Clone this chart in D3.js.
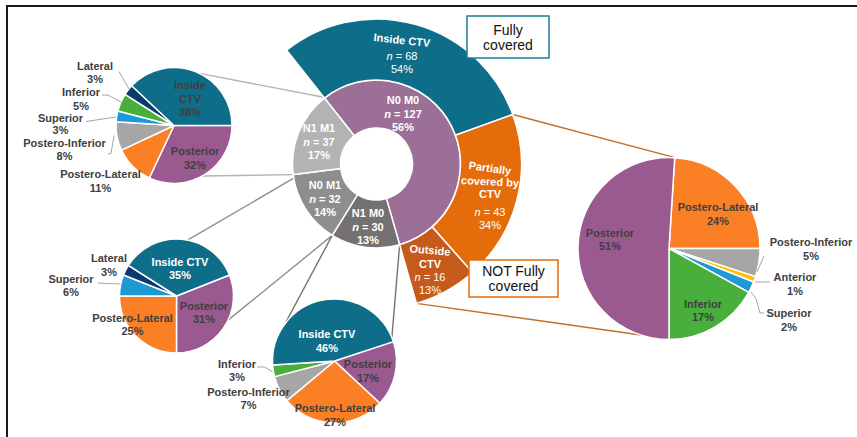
<!DOCTYPE html>
<html><head><meta charset="utf-8">
<script src="https://cdn.jsdelivr.net/npm/d3@7"></script>
<style>body{margin:0;background:#fff}svg{display:block;font-family:"Liberation Sans",Arial,sans-serif}</style>
</head><body><svg id="c" width="857" height="437"></svg>
<script>
// ---------------- DATA ----------------
const stageLabels = ["N0 M0", "N1 M0", "N0 M1", "N1 M1"];
const stageN = [127, 30, 32, 37];
const stagePct = [56, 13, 14, 17];

const coverageLabels = ["Inside CTV", "Partially covered by CTV", "Outside CTV"];
const coverageN = [68, 43, 16];
const coveragePct = [54, 34, 13];

const n1m1Cats = ["Posterior", "Postero-Lateral", "Postero-Inferior", "Superior", "Inferior", "Lateral", "Inside CTV"];
const n1m1Vals = [32, 11, 8, 3, 5, 3, 38];

const n0m1Cats = ["Posterior", "Postero-Lateral", "Superior", "Lateral", "Inside CTV"];
const n0m1Vals = [31, 25, 6, 3, 35];

const n1m0Cats = ["Posterior", "Postero-Lateral", "Postero-Inferior", "Inferior", "Inside CTV"];
const n1m0Vals = [17, 27, 7, 3, 46];

const notCovCats = ["Postero-Lateral", "Postero-Inferior", "Anterior", "Superior", "Inferior", "Posterior"];
const notCovVals = [24, 5, 1, 2, 17, 51];

const boxTexts = [["Fully", "covered"], ["NOT Fully", "covered"]];

// ---------------- STYLE / LAYOUT ----------------
const stageColors = { "N0 M0": "#9c7096", "N1 M0": "#767171", "N0 M1": "#8e8e8e", "N1 M1": "#b3b3b3" };
const coverageColors = { "Inside CTV": "#0e6e8a", "Partially covered by CTV": "#e46c0a", "Outside CTV": "#c55a1b" };
const catColors = {
  "Inside CTV": "#0e6e8a", "Posterior": "#9a5a8f", "Postero-Lateral": "#fb7f25",
  "Postero-Inferior": "#a6a6a6", "Superior": "#1d9ad6", "Inferior": "#48ae3c",
  "Lateral": "#0b3b6e", "Anterior": "#ffc000"
};
const DARK = "#404040";
const deg = Math.PI / 180;

const svg = d3.select("#c");
// frame
svg.append("path").attr("d", "M7,440 L7,6 L860,6").attr("fill", "none").attr("stroke", "#1a1a1a").attr("stroke-width", 2);

const C = { x: 376.5, y: 164 };
const rHole = 36, rInner = 84, rOuter = 145;

// polar helper (angle clockwise from 12 o'clock)
const pt = (cx, cy, r, a) => [cx + r * Math.sin(a), cy - r * Math.cos(a)];

// stage ring
const stageStart = -38.3 * deg;
const stageArcs = d3.pie().sort(null).startAngle(stageStart).endAngle(stageStart + 2 * Math.PI)(stageN);
const coverArcs = d3.pie().sort(null).startAngle(stageArcs[0].startAngle).endAngle(stageArcs[0].endAngle)(coverageN);

// small pies layout
const pies = [
  { key: "N1 M1", cx: 174, cy: 125.5, r: 58, cats: n1m1Cats, vals: n1m1Vals, start: 90,
    link: [25.9, 150.6], linkColor: "#b4b4b4",
    ring: () => [pt(C.x, C.y, rInner + 1, stageArcs[3].endAngle), pt(C.x, C.y, rInner, stageArcs[3].startAngle)] },
  { key: "N0 M1", cx: 176.5, cy: 296, r: 57, cats: n0m1Cats, vals: n0m1Vals, start: 68.4,
    link: [11.2, 115], linkColor: "#8f8f8f",
    ring: () => [pt(C.x, C.y, rInner, stageArcs[2].endAngle - 2.5 * deg), pt(C.x, C.y, rInner, stageArcs[2].startAngle)] },
  { key: "N1 M0", cx: 334.5, cy: 361, r: 62, cats: n1m0Cats, vals: n1m0Vals, start: 71.8,
    link: [-52.5, 67.7], linkColor: "#767171",
    ring: () => [pt(C.x, C.y, rInner, stageArcs[1].endAngle), pt(C.x, C.y, rInner, stageArcs[1].startAngle)] },
  { key: "NOT", cx: 669, cy: 248.5, r: 91, cats: notCovCats, vals: notCovVals, start: 3.6,
    link: [3.75, 198], linkColor: "#c0702a",
    ring: () => [pt(C.x, C.y, rOuter, coverArcs[0].endAngle), pt(C.x, C.y, rOuter, coverArcs[2].endAngle)] }
];

// connectors
pies.forEach(p => {
  const ends = p.ring();
  p.link.forEach((a, i) => {
    const s = pt(p.cx, p.cy, p.r, a * deg);
    svg.append("line").attr("x1", s[0]).attr("y1", s[1]).attr("x2", ends[i][0]).attr("y2", ends[i][1])
      .attr("stroke", p.linkColor).attr("stroke-width", 1.4);
  });
});

// draw pies
pies.forEach(p => {
  const arcs = d3.pie().sort(null).startAngle(p.start * deg).endAngle(p.start * deg + 2 * Math.PI)(p.vals);
  const arc = d3.arc().innerRadius(0).outerRadius(p.r);
  svg.append("g").attr("transform", `translate(${p.cx},${p.cy})`)
    .selectAll("path").data(arcs).join("path")
    .attr("d", arc).attr("fill", (d, i) => catColors[p.cats[i]])
    .attr("stroke", "#fff").attr("stroke-width", 1.5).attr("stroke-linejoin", "round");
});

// donut
const gD = svg.append("g").attr("transform", `translate(${C.x},${C.y})`);
gD.selectAll("path.s").data(stageArcs).join("path").attr("class", "s")
  .attr("d", d3.arc().innerRadius(rHole).outerRadius(rInner))
  .attr("fill", (d, i) => stageColors[stageLabels[i]]).attr("stroke", "#fff").attr("stroke-width", 1.5);
gD.selectAll("path.c").data(coverArcs).join("path").attr("class", "c")
  .attr("d", d3.arc().innerRadius(rInner).outerRadius(rOuter))
  .attr("fill", (d, i) => coverageColors[coverageLabels[i]]).attr("stroke", "#fff").attr("stroke-width", 1.5);

// ---------------- TEXT ----------------
function label(x, y, lines, opt = {}) {
  let yy = y;
  lines.forEach((ln) => {
    const segs = Array.isArray(ln.t) ? ln.t : [{ t: ln.t }];
    const line = svg.append("text").attr("text-anchor", "middle").attr("font-size", opt.size || 11)
      .attr("fill", opt.fill || DARK).attr("x", x).attr("y", yy).attr("dominant-baseline", "central")
      .attr("font-weight", ln.bold === false ? "normal" : "bold");
    if (ln.rot) line.attr("transform", `rotate(${ln.rot},${x},${yy})`);
    segs.forEach(s => line.append("tspan").text(s.t).attr("font-style", s.it ? "italic" : null));
    yy += (ln.gap || opt.spacing || 14);
  });
}
function leader(points, color = "#a6a6a6") {
  svg.append("path").attr("d", d3.line()(points)).attr("fill", "none").attr("stroke", color).attr("stroke-width", 1);
}

// stage labels (positions relative to donut center)
const stageLabelPos = [[26.5, -64], [-8.5, 49], [-51.5, 21], [-57.5, -36]];
stageArcs.forEach((d, i) => {
  const [dx, dy] = stageLabelPos[i];
  label(C.x + dx, C.y + dy, [
    { t: stageLabels[i] },
    { t: [{ t: "n", it: true }, { t: " = " + stageN[i] }] },
    { t: stagePct[i] + "%" }
  ], { fill: "#fff", spacing: 13.5 });
});

// coverage labels
const coverLabelPos = [
  { dx: 25.5, dy: -124, name: [{ t: "Inside CTV", rot: 6, gap: 16 }] },
  { dx: 113.5, dy: 4, name: [{ t: "Partially", rot: 8, gap: 13.5 }, { t: "covered by", rot: 3, gap: 12.5 }, { t: "CTV", gap: 17.5 }] },
  { dx: 53.5, dy: 86, name: [{ t: "Outside", rot: 5, gap: 13.5 }, { t: "CTV", gap: 13.5 }] }
];
coverArcs.forEach((d, i) => {
  const L = coverLabelPos[i];
  label(C.x + L.dx, C.y + L.dy, [
    ...L.name,
    { t: [{ t: "n", it: true }, { t: " = " + coverageN[i] }], bold: false, gap: 13 },
    { t: coveragePct[i] + "%", bold: false }
  ], { fill: "#fff" });
});

// slice labels for small pies: positions relative to each pie center
const sliceLabels = {
  "N1 M1": {
    "Inside CTV": { dx: 16, dy: -40.5, lines: ["Inside", "CTV"], fill: DARK, sp: 13.5 },
    "Posterior": { dx: 21, dy: 25.5 },
    "Postero-Lateral": { dx: -73.5, dy: 48.5 },
    "Postero-Inferior": { dx: -109.5, dy: 17, sp: 13, lead: [[-66, 28.5], [-63, 28], [-60, 10]] },
    "Superior": { dx: -113.5, dy: -7.5, sp: 12, lead: [[-88, -4], [-58, -8.5]] },
    "Inferior": { dx: -93, dy: -33.5, sp: 13.5, lead: [[-72, -30.5], [-66, -30.5], [-53, -23.5]] },
    "Lateral": { dx: -79, dy: -60, sp: 13.5, lead: [[-55, -54], [-45, -36.5]] }
  },
  "N0 M1": {
    "Inside CTV": { dx: 3.5, dy: -34, fill: "#fff", sp: 13 },
    "Posterior": { dx: 27.5, dy: 10, sp: 13 },
    "Postero-Lateral": { dx: -44, dy: 22, sp: 13 },
    "Superior": { dx: -105.5, dy: -17, sp: 13, lead: [[-79, -13], [-56, -12]] },
    "Lateral": { dx: -67.5, dy: -38, sp: 14 }
  },
  "N1 M0": {
    "Inside CTV": { dx: -7.5, dy: -27, fill: "#fff" },
    "Posterior": { dx: 33.5, dy: 3 },
    "Postero-Lateral": { dx: 0.5, dy: 47 },
    "Postero-Inferior": { dx: -86, dy: 30.5, sp: 13 },
    "Inferior": { dx: -97.5, dy: 2.5, sp: 13.5, lead: [[-77.5, 6], [-70, 6], [-62, 11]] }
  },
  "NOT": {
    "Postero-Lateral": { dx: 49, dy: -41.5 },
    "Posterior": { dx: -59, dy: -15.5, sp: 13 },
    "Inferior": { dx: 34, dy: 55.5, sp: 13 },
    "Postero-Inferior": { dx: 142, dy: -6.5, lead: [[95, 7.5], [88, 23.5]] },
    "Anterior": { dx: 126, dy: 28.5, lead: [[101, 33.5], [86, 33.5]] },
    "Superior": { dx: 120, dy: 64.5, lead: [[95, 64.5], [91, 64.5], [87, 50], [82, 43.5]] }
  }
};
pies.forEach(p => {
  const cfg = sliceLabels[p.key];
  p.cats.forEach((c, i) => {
    const L = cfg[c];
    if (!L) return;
    if (L.lead) leader(L.lead.map(q => [p.cx + q[0], p.cy + q[1]]));
    const names = L.lines || [c];
    label(p.cx + L.dx, p.cy + L.dy, [...names.map(n => ({ t: n })), { t: p.vals[i] + "%" }],
      { fill: L.fill || DARK, spacing: L.sp || 14 });
  });
});

// boxes
const boxes = [
  { x: 467, y: 16, w: 82, h: 42, stroke: "#1e7d96" },
  { x: 469, y: 260, w: 89, h: 37, stroke: "#e46c0a" }
];
boxes.forEach((b, i) => {
  svg.append("rect").attr("x", b.x).attr("y", b.y).attr("width", b.w).attr("height", b.h)
    .attr("fill", "#fff").attr("stroke", b.stroke).attr("stroke-width", 1.5);
  boxTexts[i].forEach((t, j) => {
    svg.append("text").attr("x", b.x + b.w / 2).attr("y", b.y + b.h / 2 + (j === 0 ? -7.5 : 7.5))
      .attr("text-anchor", "middle").attr("dominant-baseline", "central")
      .attr("font-size", 14).attr("fill", "#111").text(t);
  });
});
</script></body></html>
